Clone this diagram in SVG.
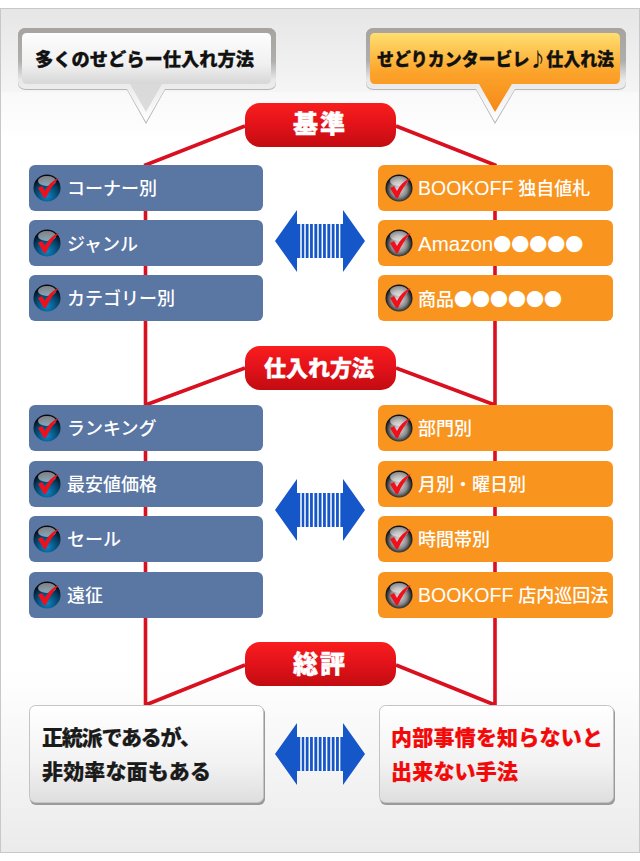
<svg xmlns="http://www.w3.org/2000/svg" xmlns:xlink="http://www.w3.org/1999/xlink" width="640" height="861" viewBox="0 0 640 861">
<style>
text{font-family:"Liberation Sans","Noto Sans CJK JP",sans-serif}
.l{font-size:18px;fill:#fff;font-weight:500}
.la{font-size:19.500px}
.cj{font-family:"Noto Sans CJK JP",sans-serif}
.p{font-size:22px;font-weight:900;fill:#fff;text-anchor:middle;stroke:#fff;stroke-width:.4}
.pb{font-size:25px}
.t{font-size:18px;font-weight:900;fill:#111;stroke:#111;stroke-width:.3}
.b{font-size:21px;font-weight:900;fill:#1a1a1a;stroke:#1a1a1a;stroke-width:.2}
.b.r{fill:#f20a0a;stroke:#f20a0a}
.bn{fill:#5a76a3}
.on{fill:#f9951f}
.c{fill:none;stroke:#d9101f;stroke-width:3.600}
.sh{fill:#9a9a9a}
</style>
<defs>
<linearGradient id="top" x1="0" y1="0" x2="0" y2="1"><stop offset="0" stop-color="#e6e6e6"/><stop offset=".66" stop-color="#f5f5f5"/><stop offset=".66" stop-color="#f9f9f9"/><stop offset="1" stop-color="#fefefe"/></linearGradient>
<linearGradient id="bot" x1="0" y1="0" x2="0" y2="1"><stop offset="0" stop-color="#fff"/><stop offset=".5" stop-color="#f5f5f5"/><stop offset="1" stop-color="#ebebeb"/></linearGradient>
<linearGradient id="gw" x1="0" y1="0" x2="0" y2="1"><stop offset="0" stop-color="#fdfdfd"/><stop offset=".4" stop-color="#f0f0f0"/><stop offset=".62" stop-color="#d9d9d9"/><stop offset="1" stop-color="#dcdcdc"/></linearGradient>
<linearGradient id="go" x1="0" y1="0" x2="0" y2="1"><stop offset="0" stop-color="#ffdf70"/><stop offset=".5" stop-color="#fca32a"/><stop offset="1" stop-color="#f58a18"/></linearGradient>
<linearGradient id="gr" x1="0" y1="0" x2="0" y2="1"><stop offset="0" stop-color="#f91d1d"/><stop offset=".5" stop-color="#e2121a"/><stop offset="1" stop-color="#c20c10"/></linearGradient>
<linearGradient id="gb" x1="0" y1="0" x2="0" y2="1"><stop offset="0" stop-color="#fff"/><stop offset=".6" stop-color="#f2f2f2"/><stop offset="1" stop-color="#dedede"/></linearGradient>
<linearGradient id="rim" x1="0" y1="0" x2="0" y2="1"><stop offset="0" stop-color="#a6a3a0"/><stop offset=".35" stop-color="#b0aeac"/><stop offset=".55" stop-color="#e8e8e8"/><stop offset="1" stop-color="#fff"/></linearGradient>
<radialGradient id="ib" cx=".5" cy=".8" r=".7"><stop offset="0" stop-color="#0a86c8"/><stop offset=".7" stop-color="#063a5c"/><stop offset="1" stop-color="#050a12"/></radialGradient>
<radialGradient id="is" cx=".5" cy=".55" r=".5"><stop offset="0" stop-color="#e4e4e4"/><stop offset=".6" stop-color="#8a8a8a"/><stop offset="1" stop-color="#111"/></radialGradient>
<path id="ck" d="M-9 0-5-2-2 3C1-3 6-8 12-10 6-4 2 3-1 10L-3 10Z" fill="#f0101c"/>
<g id="ib1"><circle r="13.500" fill="url(#ib)"/><ellipse cy="-7" rx="9" ry="5" fill="#fff" opacity=".5"/><use xlink:href="#ck"/></g>
<g id="is1"><circle r="13.500" fill="url(#is)"/><ellipse cy="-7" rx="9" ry="5" fill="#fff" opacity=".5"/><use xlink:href="#ck"/></g>
<g id="arrow">
<path d="M-45 0-23-31V-17H23V-31L45 0 23 31V17H-23V31Z" fill="#1556c8"/>
<path d="M-19-17V17M-15-17V17M-10.700-17V17M-6.400-17V17M-2-17V17M2.300-17V17M6.600-17V17M11-17V17M15.300-17V17M19.600-17V17" stroke="#fff" stroke-width="1.500" fill="none"/>
</g>
</defs>
<rect width="640" height="861" fill="#fff"/>
<rect x=".5" y="8.500" width="639" height="844" fill="#fff" stroke="#c8c8c8"/>
<rect x="1" y="9" width="638" height="126" fill="url(#top)"/>
<rect x="1" y="670" width="638" height="182" fill="url(#bot)"/>

<g id="connectors">
<path class="c" d="M245 126 145.500 165V705L245 665M396 126 495 165V705L396 665M245 368 145.500 405M396 368 495 405"/>
</g>

<g id="callout-left">
<path d="M26 28H268Q276 28 276 36V83Q276 90 268 90H165L146 124 127 90H26Q18 90 18 83V36Q18 28 26 28Z" fill="#b5b5b5"/>
<path d="M26 28H268Q276 28 276 36V81Q276 89 268 89H165L146 122 127 89H26Q18 89 18 81V36Q18 28 26 28Z" fill="url(#rim)"/>
<path d="M27 33H266Q271 33 271 38V78Q271 84 266 84H162L146 112 130 84H27Q22 84 22 78V38Q22 33 27 33Z" fill="url(#gw)"/>
<text class="t" x="35" y="66" textLength="219" lengthAdjust="spacingAndGlyphs">多くのせどらー仕入れ方法</text>
</g>
<g id="callout-right">
<path d="M374 28H618Q626 28 626 36V83Q626 90 618 90H515L495 124 476 90H374Q366 90 366 83V36Q366 28 374 28Z" fill="#b5b5b5"/>
<path d="M374 28H618Q626 28 626 36V81Q626 89 618 89H515L495 122 476 89H374Q366 89 366 81V36Q366 28 374 28Z" fill="url(#rim)"/>
<path d="M375 33H615Q620 33 620 38V78Q620 84 615 84H512L495 112 479 84H375Q370 84 370 78V38Q370 33 375 33Z" fill="url(#go)"/>
<text class="t cj" x="377" y="66" textLength="237" lengthAdjust="spacingAndGlyphs">せどりカンタービレ♪仕入れ法</text>
</g>

<g id="pill-kijun"><rect x="245" y="103" width="151" height="44" rx="15" fill="url(#gr)"/><text class="p pb" x="319" y="133" textLength="52">基準</text></g>
<g id="pill-shiire"><rect x="245" y="346" width="151" height="44" rx="15" fill="url(#gr)"/><text class="p" x="319" y="376" textLength="110">仕入れ方法</text></g>
<g id="pill-sohyo"><rect x="245" y="642" width="151" height="44" rx="15" fill="url(#gr)"/><text class="p pb" x="319" y="673" textLength="52">総評</text></g>

<g id="n1"><rect class="bn" x="29" y="165" width="234" height="46" rx="6"/><use xlink:href="#ib1" x="47" y="188"/><text class="l" x="67" y="195">コーナー別</text></g>
<g id="n2"><rect class="bn" x="29" y="220" width="234" height="46" rx="6"/><use xlink:href="#ib1" x="47" y="243"/><text class="l" x="67" y="251">ジャンル</text></g>
<g id="n3"><rect class="bn" x="29" y="275" width="234" height="46" rx="6"/><use xlink:href="#ib1" x="47" y="298"/><text class="l" x="67" y="305">カテゴリー別</text></g>
<g id="n4"><rect class="on" x="378" y="165" width="235" height="46" rx="6"/><use xlink:href="#is1" x="399" y="188"/><text class="l" x="418" y="195"><tspan class="la">BOOKOFF</tspan> 独自値札</text></g>
<g id="n5"><rect class="on" x="378" y="220" width="235" height="46" rx="6"/><use xlink:href="#is1" x="399" y="243"/><text class="l" x="418" y="251"><tspan class="la" style="font-size:20.500px">Amazon</tspan><tspan class="cj">●●●●●</tspan></text></g>
<g id="n6"><rect class="on" x="378" y="275" width="235" height="46" rx="6"/><use xlink:href="#is1" x="399" y="298"/><text class="l cj" x="418" y="306">商品●●●●●●</text></g>

<g id="n7"><rect class="bn" x="29" y="405" width="234" height="46" rx="6"/><use xlink:href="#ib1" x="47" y="428"/><text class="l" x="67" y="435">ランキング</text></g>
<g id="n8"><rect class="bn" x="29" y="461" width="234" height="46" rx="6"/><use xlink:href="#ib1" x="47" y="484"/><text class="l" x="67" y="491">最安値価格</text></g>
<g id="n9"><rect class="bn" x="29" y="516" width="234" height="46" rx="6"/><use xlink:href="#ib1" x="47" y="539"/><text class="l" x="67" y="546">セール</text></g>
<g id="n10"><rect class="bn" x="29" y="572" width="234" height="46" rx="6"/><use xlink:href="#ib1" x="47" y="595"/><text class="l" x="67" y="602">遠征</text></g>
<g id="n11"><rect class="on" x="378" y="405" width="235" height="46" rx="6"/><use xlink:href="#is1" x="399" y="428"/><text class="l" x="418" y="435">部門別</text></g>
<g id="n12"><rect class="on" x="378" y="461" width="235" height="46" rx="6"/><use xlink:href="#is1" x="399" y="484"/><text class="l" x="418" y="491">月別・曜日別</text></g>
<g id="n13"><rect class="on" x="378" y="516" width="235" height="46" rx="6"/><use xlink:href="#is1" x="399" y="539"/><text class="l" x="418" y="546">時間帯別</text></g>
<g id="n14"><rect class="on" x="378" y="572" width="235" height="46" rx="6"/><use xlink:href="#is1" x="399" y="595"/><text class="l" x="418" y="602"><tspan class="la">BOOKOFF</tspan> 店内巡回法</text></g>

<g id="arrows">
<use xlink:href="#arrow" x="320" y="241"/>
<use xlink:href="#arrow" x="320" y="510"/>
<use xlink:href="#arrow" x="320" y="754"/>
</g>

<g id="result-left"><rect class="sh" x="30" y="707" width="235" height="98" rx="6"/><rect x="29.500" y="705.500" width="234" height="97" rx="6" fill="url(#gb)" stroke="#c4c4c4"/><text class="b" x="42" y="745" textLength="159">正統派であるが、</text><text class="b" x="42" y="779" textLength="169">非効率な面もある</text></g>
<g id="result-right"><rect class="sh" x="380" y="707" width="235" height="98" rx="6"/><rect x="379.500" y="705.500" width="234" height="97" rx="6" fill="url(#gb)" stroke="#c4c4c4"/><text class="b r" x="391" y="745" textLength="212">内部事情を知らないと</text><text class="b r" x="391" y="779" textLength="127">出来ない手法</text></g>
</svg>
